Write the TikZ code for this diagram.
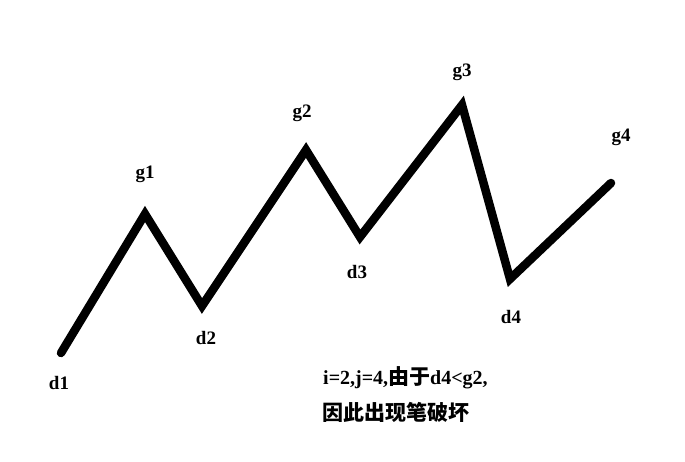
\documentclass[tikz,border=0pt]{standalone}
\usepackage{fontspec}
\setmainfont{Liberation Serif}
\newfontfamily\cjk{Noto Sans CJK SC}
\begin{document}
\begin{tikzpicture}[x=1pt,y=-1pt,
  lbl/.style={font=\fontsize{19}{22}\selectfont\bfseries, inner sep=0pt},
  note/.style={font=\fontsize{20}{23}\selectfont\bfseries, inner sep=0pt, anchor=west},
  zig/.style={line width=8.5pt, line cap=round, line join=miter}]
\useasboundingbox[fill=white] (0,0) rectangle (685,461);
\coordinate (pd1) at (61,353);
\coordinate (pg1) at (145,214);
\coordinate (pd2) at (202,306);
\coordinate (pg2) at (306,150);
\coordinate (pd3) at (360,237);
\coordinate (pg3) at (462,105);
\coordinate (pd4) at (510,279);
\coordinate (pg4) at (611,183);
\draw[zig] (pd1) -- (pg1) -- (pd2) -- (pg2) -- (pd3) -- (pg3) -- (pd4) -- (pg4);
\node[lbl] (ld1) at (59,383) {d1};
\node[lbl] (lg1) at (145,174) {g1};
\node[lbl] (ld2) at (206,338) {d2};
\node[lbl] (lg2) at (302,113) {g2};
\node[lbl] (ld3) at (357,272) {d3};
\node[lbl] (lg3) at (462,72) {g3};
\node[lbl] (ld4) at (511,317) {d4};
\node[lbl] (lg4) at (621,137) {g4};
\node[note] (n1) at (323,378) {i=2,j=4,{\cjk\fontsize{21}{24}\selectfont 由于}d4<g2,};
\node[note] (n2) at (322,412) {\cjk\fontsize{21}{24}\selectfont 因此出现笔破坏};
\end{tikzpicture}
\end{document}
